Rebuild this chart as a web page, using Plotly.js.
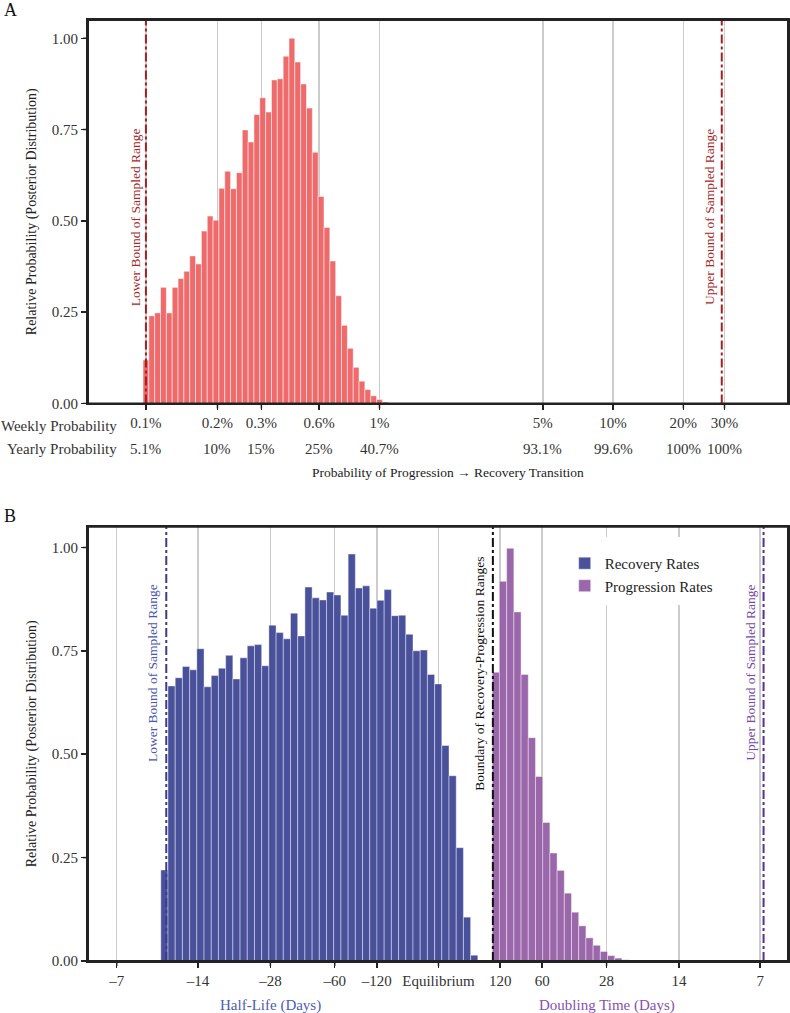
<!DOCTYPE html>
<html>
<head>
<meta charset="utf-8">
<script src="https://cdn.plot.ly/plotly-3.0.1.min.js"></script>
<style>html,body{margin:0;padding:0;background:#fff;}</style>
</head>
<body>
<div id="chart" style="width:790px;height:1013px;"></div>
<script>
// ---------- Panel A data ----------
// histogram of weekly probability of progression -> recovery (bins in log10 space)
const progRecBinStartLog10 = -3.0;     // centre of first bin (0.1% weekly)
const progRecBinWidthLog10 = 0.025;
const progRecHeights = [0.119, 0.240, 0.248, 0.318, 0.248, 0.318, 0.342, 0.362, 0.404, 0.382,
  0.472, 0.513, 0.502, 0.589, 0.636, 0.588, 0.632, 0.749, 0.716, 0.791,
  0.837, 0.798, 0.886, 0.889, 0.951, 1.000, 0.935, 0.875, 0.809, 0.688,
  0.567, 0.482, 0.390, 0.295, 0.214, 0.151, 0.099, 0.061, 0.038, 0.021,
  0.011, 0.004];
const weeklyTickValues = [0.001, 0.002024, 0.003121, 0.005517, 0.01, 0.05, 0.1, 0.2, 0.3];
const weeklyTickLabels = ["0.1%", "0.2%", "0.3%", "0.6%", "1%", "5%", "10%", "20%", "30%"];
const yearlyTickLabels = ["5.1%", "10%", "15%", "25%", "40.7%", "93.1%", "99.6%", "100%", "100%"];
const progRecLowerBound = 0.001;
const progRecUpperBound = 0.292;

// ---------- Panel B data ----------
// transformed rate axis: u = sign * ln(1 + 70 / days)
const rateBinWidth = 0.0537;
const recoveryBinStart = -2.0694;      // left edge of first recovery bin
const progressionBinStart = 0.4008;    // left edge of first progression bin
const recoveryHeights = [0.220, 0.665, 0.685, 0.712, 0.704, 0.755, 0.663, 0.690, 0.708, 0.739,
  0.682, 0.733, 0.762, 0.765, 0.714, 0.812, 0.794, 0.779, 0.841, 0.786,
  0.904, 0.878, 0.873, 0.892, 0.885, 0.836, 0.984, 0.902, 0.907, 0.853,
  0.872, 0.898, 0.835, 0.836, 0.790, 0.750, 0.752, 0.693, 0.670, 0.521,
  0.448, 0.274, 0.106, 0.014];
const progressionHeights = [0.698, 0.918, 0.998, 0.844, 0.693, 0.540, 0.446, 0.335, 0.261, 0.219,
  0.164, 0.118, 0.085, 0.056, 0.038, 0.023, 0.013, 0.007, 0.003];
const dayTickSigns = [-1, -1, -1, -1, -1, 0, 1, 1, 1, 1, 1];
const dayTickDays = [7, 14, 28, 60, 120, Infinity, 120, 60, 28, 14, 7];
const dayTickLabels = ["\u20137", "\u201314", "\u201328", "\u201360", "\u2013120", "Equilibrium", "120", "60", "28", "14", "7"];
const yTickValues = [0, 0.25, 0.5, 0.75, 1];
const lowerBoundHalfLife = 10.6;    // days
const boundaryDoubling = 140;       // days
const upperBoundDoubling = 6.81;    // days

function rateU(sign, days) {
  if (sign === 0 || !isFinite(days)) return 0;
  return sign * Math.log(1 + 70 / days);
}

const FONT = "Liberation Serif, 'Times New Roman', serif";
const DOM_A = [0.5925, 1];
const DOM_B = [0, 0.4615];
const PLOT_W = 700, PLOT_H = 941;

const xA = progRecHeights.map((_, i) => progRecBinStartLog10 + i * progRecBinWidthLog10);
const xRec = recoveryHeights.map((_, i) => recoveryBinStart + (i + 0.5) * rateBinWidth);
const xProg = progressionHeights.map((_, i) => progressionBinStart + (i + 0.5) * rateBinWidth);

const traces = [
  {type: 'bar', x: xA, y: progRecHeights, width: progRecBinWidthLog10, xaxis: 'x', yaxis: 'y',
   marker: {color: '#ee5a5a', line: {color: 'rgba(255,255,255,0.75)', width: 0.7}}, opacity: 0.9,
   showlegend: false, hoverinfo: 'skip'},
  {type: 'bar', x: xRec, y: recoveryHeights, width: rateBinWidth, xaxis: 'x2', yaxis: 'y2',
   name: 'Recovery Rates',
   marker: {color: '#373f91', line: {color: 'rgba(255,255,255,0.6)', width: 0.7}}, opacity: 0.9,
   hoverinfo: 'skip'},
  {type: 'bar', x: xProg, y: progressionHeights, width: rateBinWidth, xaxis: 'x2', yaxis: 'y2',
   name: 'Progression Rates',
   marker: {color: '#9057a1', line: {color: 'rgba(255,255,255,0.6)', width: 0.7}}, opacity: 0.9,
   hoverinfo: 'skip'}
];

const axisLine = {showline: true, mirror: true, linecolor: '#222', linewidth: 2, zeroline: false,
  ticks: 'outside', ticklen: 5, tickwidth: 1.5, tickcolor: '#222'};
const yTitle = {text: 'Relative Probability (Posterior Distribution)', font: {size: 14, color: '#222'}, standoff: 12};

const dayTickVals = dayTickDays.map((d, i) => rateU(dayTickSigns[i], d));
const weeklyTickLog = weeklyTickValues.map(Math.log10);

const layout = {
  width: 790, height: 1013,
  margin: {l: 88, r: 2, t: 20, b: 52},
  font: {family: FONT, size: 15, color: '#222'},
  bargap: 0, barmode: 'overlay',
  showlegend: true,
  legend: {x: 0.681, y: 0.44, xanchor: 'left', yanchor: 'top', bgcolor: 'rgba(255,255,255,0)',
           font: {size: 15, color: '#222'}, tracegroupgap: 0},
  xaxis: Object.assign({}, axisLine, {
    domain: [0, 1], anchor: 'y', range: [-3.248, -0.251],
    tickvals: weeklyTickLog, ticktext: weeklyTickLabels,
    showgrid: true, gridcolor: '#cccccc', gridwidth: 1.5,
    tickfont: {size: 15, color: '#333'}
  }),
  yaxis: Object.assign({}, axisLine, {
    domain: DOM_A, anchor: 'x', range: [0, 1.05],
    tickvals: yTickValues, tickformat: '.2f', showgrid: false,
    tickfont: {size: 15, color: '#333'}, title: yTitle
  }),
  xaxis2: Object.assign({}, axisLine, {
    domain: [0, 1], anchor: 'y2', range: [-2.612, 2.605],
    tickvals: dayTickVals, ticktext: dayTickLabels,
    showgrid: true, gridcolor: '#cccccc', gridwidth: 1.5,
    tickfont: {size: 15, color: '#333'}
  }),
  yaxis2: Object.assign({}, axisLine, {
    domain: DOM_B, anchor: 'x2', range: [0, 1.05],
    tickvals: yTickValues, tickformat: '.2f', showgrid: false,
    tickfont: {size: 15, color: '#333'}, title: Object.assign({}, yTitle)
  }),
  shapes: [
    {type: 'line', xref: 'x', yref: 'paper', x0: Math.log10(progRecLowerBound), x1: Math.log10(progRecLowerBound), y0: DOM_A[0], y1: DOM_A[1],
     line: {color: '#a32020', width: 2, dash: 'dashdot'}, layer: 'above'},
    {type: 'line', xref: 'x', yref: 'paper', x0: Math.log10(progRecUpperBound), x1: Math.log10(progRecUpperBound), y0: DOM_A[0], y1: DOM_A[1],
     line: {color: '#a32020', width: 2, dash: 'dashdot'}, layer: 'above'},
    {type: 'rect', xref: 'paper', yref: 'paper', x0: 0.6886, x1: 0.9057, y0: 0.3783, y1: 0.4506,
     fillcolor: '#ffffff', line: {width: 0}, layer: 'above'},
    {type: 'line', xref: 'x2', yref: 'paper', x0: rateU(-1, lowerBoundHalfLife), x1: rateU(-1, lowerBoundHalfLife), y0: DOM_B[0], y1: DOM_B[1],
     line: {color: '#3b3a8c', width: 2, dash: 'dashdot'}, layer: 'above'},
    {type: 'line', xref: 'x2', yref: 'paper', x0: rateU(1, boundaryDoubling), x1: rateU(1, boundaryDoubling), y0: DOM_B[0], y1: DOM_B[1],
     line: {color: '#111111', width: 2, dash: 'dashdot'}, layer: 'above'},
    {type: 'line', xref: 'x2', yref: 'paper', x0: rateU(1, upperBoundDoubling), x1: rateU(1, upperBoundDoubling), y0: DOM_B[0], y1: DOM_B[1],
     line: {color: '#5b2d98', width: 2, dash: 'dashdot'}, layer: 'above'},
    // panel frames
    {type: 'rect', xref: 'paper', yref: 'paper', x0: 0, x1: 1, y0: DOM_A[0], y1: DOM_A[1],
     line: {color: '#222', width: 2}, fillcolor: 'rgba(0,0,0,0)', layer: 'above'},
    {type: 'rect', xref: 'paper', yref: 'paper', x0: 0, x1: 1, y0: DOM_B[0], y1: DOM_B[1],
     line: {color: '#222', width: 2}, fillcolor: 'rgba(0,0,0,0)', layer: 'above'}
  ],
  annotations: []
};

// tick marks (tied to the axes' own tick values)
const tickLine = {color: '#222', width: 1.5};
const tlY = 5 / PLOT_H, tlX = 5 / PLOT_W;
weeklyTickLog.forEach(v => layout.shapes.push({type: 'line', xref: 'x', yref: 'paper', x0: v, x1: v, y0: DOM_A[0], y1: DOM_A[0] - tlY, line: tickLine, layer: 'above'}));
dayTickVals.forEach(v => layout.shapes.push({type: 'line', xref: 'x2', yref: 'paper', x0: v, x1: v, y0: DOM_B[0], y1: DOM_B[0] - tlY, line: tickLine, layer: 'above'}));
yTickValues.forEach(v => {
  layout.shapes.push({type: 'line', xref: 'paper', yref: 'y', x0: 0, x1: -tlX, y0: v, y1: v, line: tickLine, layer: 'above'});
  layout.shapes.push({type: 'line', xref: 'paper', yref: 'y2', x0: 0, x1: -tlX, y0: v, y1: v, line: tickLine, layer: 'above'});
});

const ann = layout.annotations;
ann.push({text: 'A', xref: 'paper', yref: 'paper', x: -0.1229, y: 1.0106, xanchor: 'left', yanchor: 'middle', showarrow: false, font: {size: 18, color: '#111'}});
ann.push({text: 'B', xref: 'paper', yref: 'paper', x: -0.1229, y: 0.4729, xanchor: 'left', yanchor: 'middle', showarrow: false, font: {size: 18, color: '#111'}});
ann.push({text: 'Weekly Probability', xref: 'paper', yref: 'paper', x: 0.0443, y: 0.5685, xanchor: 'right', yanchor: 'middle', showarrow: false, font: {size: 15, color: '#333'}});
ann.push({text: 'Yearly Probability', xref: 'paper', yref: 'paper', x: 0.0443, y: 0.5441, xanchor: 'right', yanchor: 'middle', showarrow: false, font: {size: 15, color: '#333'}});
weeklyTickValues.forEach((v, i) => {
  ann.push({text: yearlyTickLabels[i], xref: 'x', yref: 'paper', x: Math.log10(v), y: 0.5441, xanchor: 'center', yanchor: 'middle', showarrow: false, font: {size: 15, color: '#333'}});
});
ann.push({text: 'Probability of Progression \u2192 Recovery Transition', xref: 'paper', yref: 'paper', x: 0.514, y: 0.5186, xanchor: 'center', yanchor: 'middle', showarrow: false, font: {size: 13.5, color: '#222'}});
ann.push({text: 'Lower Bound of Sampled Range', xref: 'x', yref: 'y', x: Math.log10(progRecLowerBound), y: 0.51, xshift: -11, textangle: -90, showarrow: false, font: {size: 13.5, color: '#a52a2a'}});
ann.push({text: 'Upper Bound of Sampled Range', xref: 'x', yref: 'y', x: Math.log10(progRecUpperBound), y: 0.51, xshift: -13, textangle: -90, showarrow: false, font: {size: 13.5, color: '#a52a2a'}});
ann.push({text: 'Lower Bound of Sampled Range', xref: 'x2', yref: 'y2', x: rateU(-1, lowerBoundHalfLife), y: 0.697, xshift: -14, textangle: -90, showarrow: false, font: {size: 13.5, color: '#4a55b0'}});
ann.push({text: 'Boundary of Recovery-Progression Ranges', xref: 'x2', yref: 'y2', x: rateU(1, boundaryDoubling), y: 0.694, xshift: -13, textangle: -90, showarrow: false, font: {size: 13.5, color: '#111'}});
ann.push({text: 'Upper Bound of Sampled Range', xref: 'x2', yref: 'y2', x: rateU(1, upperBoundDoubling), y: 0.696, xshift: -13, textangle: -90, showarrow: false, font: {size: 13.5, color: '#7a48a8'}});
ann.push({text: 'Half-Life (Days)', xref: 'x2', yref: 'paper', x: rateU(-1, 28), y: -0.0468, xanchor: 'center', yanchor: 'middle', showarrow: false, font: {size: 15, color: '#4d5cb3'}});
ann.push({text: 'Doubling Time (Days)', xref: 'x2', yref: 'paper', x: rateU(1, 28), y: -0.0468, xanchor: 'center', yanchor: 'middle', showarrow: false, font: {size: 15, color: '#8a4fae'}});

Plotly.newPlot('chart', traces, layout, {displayModeBar: false, staticPlot: true});
</script>
</body>
</html>
